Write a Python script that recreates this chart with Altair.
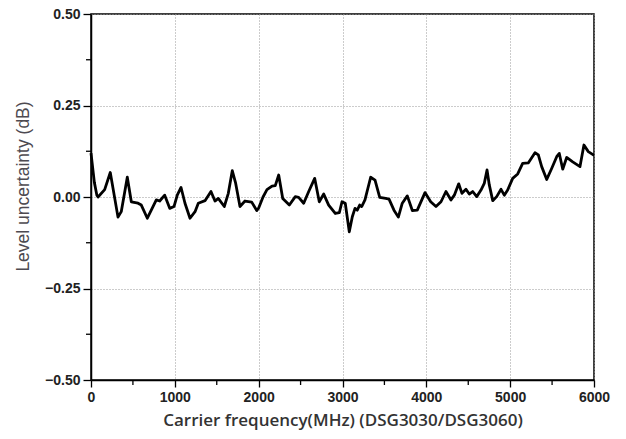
import altair as alt
import pandas as pd

freq_mhz = [0, 40, 70, 84, 163, 230, 322, 361, 433, 481, 561, 600, 672, 719, 779, 819, 879, 939, 990, 1029,
            1074, 1121, 1181, 1241, 1280, 1360, 1431, 1479, 1518, 1590, 1638, 1685, 1726, 1777, 1837, 1917, 1977,
            2000, 2052, 2099, 2159, 2198, 2239, 2287, 2366, 2437, 2477, 2537, 2597, 2668, 2723, 2776, 2835, 2914,
            2962, 2994, 3033, 3081, 3117, 3149, 3176, 3205, 3229, 3268, 3336, 3388, 3444, 3515, 3555, 3614, 3666,
            3713, 3773, 3833, 3892, 3984, 4052, 4115, 4175, 4234, 4294, 4334, 4386, 4425, 4473, 4512, 4553, 4601,
            4652, 4691, 4724, 4751, 4792, 4839, 4891, 4930, 4970, 5030, 5090, 5149, 5216, 5296, 5336, 5376, 5436,
            5495, 5555, 5586, 5627, 5674, 5746, 5833, 5880, 5932, 5992, 6000]
level_db = [0.120, 0.040, 0.005, 0.000, 0.020, 0.067, -0.055, -0.040, 0.054, -0.013, -0.017, -0.022, -0.058, -0.036,
            -0.008, -0.011, 0.005, -0.031, -0.026, 0.005,
            0.026, -0.017, -0.058, -0.040, -0.017, -0.010, 0.015, -0.011, -0.004, -0.026, 0.010, 0.072, 0.037, -0.026,
            -0.011, -0.014, -0.037,
            -0.030, 0.000, 0.020, 0.030, 0.031, 0.060, -0.004, -0.022, 0.001, -0.001, -0.017, 0.015, 0.051, -0.013,
            0.008, -0.022, -0.045,
            -0.043, -0.013, -0.017, -0.095, -0.054, -0.031, -0.036, -0.022, -0.026, -0.008, 0.054, 0.046, -0.001,
            -0.004, -0.006, -0.036, -0.055,
            -0.017, 0.003, -0.037, -0.036, 0.012, -0.013, -0.026, -0.013, 0.015, -0.008, 0.005, 0.036, 0.010, 0.021,
            0.008, 0.015, 0.001,
            0.019, 0.037, 0.074, 0.033, -0.010, 0.001, 0.021, 0.005, 0.019, 0.051, 0.063, 0.092, 0.093, 0.121, 0.115,
            0.083, 0.048,
            0.078, 0.110, 0.119, 0.076, 0.108, 0.096, 0.083, 0.142, 0.124, 0.115, 0.115]

x_major = [0, 1000, 2000, 3000, 4000, 5000, 6000]
x_minor = [500, 1500, 2500, 3500, 4500, 5500]
y_major = [-0.5, -0.25, 0.0, 0.25, 0.5]
y_minor = [-0.375, -0.125, 0.125, 0.375]

W, H = 503, 366

df = pd.DataFrame({"f": freq_mhz, "v": level_db})
xscale = alt.Scale(domain=[0, 6000], nice=False)
yscale = alt.Scale(domain=[-0.5, 0.5], nice=False)

line = alt.Chart(df).mark_line(color="black", strokeWidth=2.8, strokeJoin="round").encode(
    x=alt.X("f:Q", scale=xscale,
            axis=alt.Axis(values=x_major, format="d", title="Carrier frequency(MHz) (DSG3030/DSG3060)",
                          tickSize=7, labelPadding=3, titlePadding=8,
                          gridDash=[1, 2], gridColor="#999", gridWidth=1)),
    y=alt.Y("v:Q", scale=yscale,
            axis=alt.Axis(values=y_major, format=".2f", title="Level uncertainty (dB)",
                          tickSize=8, labelPadding=3, titlePadding=12, titleY=172,
                          gridDash=[1, 2], gridColor="#999", gridWidth=1)),
)

xm = alt.Chart(pd.DataFrame({"m": x_minor})).mark_rule(color="black", strokeWidth=1.3).encode(
    x=alt.X("m:Q", scale=xscale), y=alt.value(H), y2=alt.value(H + 5))
ym = alt.Chart(pd.DataFrame({"m": y_minor})).mark_rule(color="black", strokeWidth=1.3).encode(
    y=alt.Y("m:Q", scale=yscale), x=alt.value(0), x2=alt.value(-5))

chart = alt.layer(line, xm, ym).properties(
    width=W, height=H,
    autosize=alt.AutoSizeParams(type="none"),
    padding={"left": 91, "top": 14, "right": 32, "bottom": 59},
).configure_view(stroke="black", strokeWidth=1.5).configure_axis(
    domainColor="black", domainWidth=1.5, tickColor="black", tickWidth=1.3,
    labelFont="Liberation Sans", labelFontSize=14, labelFontWeight="bold", labelColor="#222",
    grid=True,
).configure_axisX(
    titleFont="Open Sans", titleFontSize=17, titleFontWeight=600, titleColor="#333",
    labelFlush=False,
).configure_axisY(
    titleFont="Liberation Sans", titleFontSize=17.5, titleFontWeight="normal", titleColor="#4d4a50",
)

chart.save("out.html", embed_options={"renderer": "svg", "actions": False})
